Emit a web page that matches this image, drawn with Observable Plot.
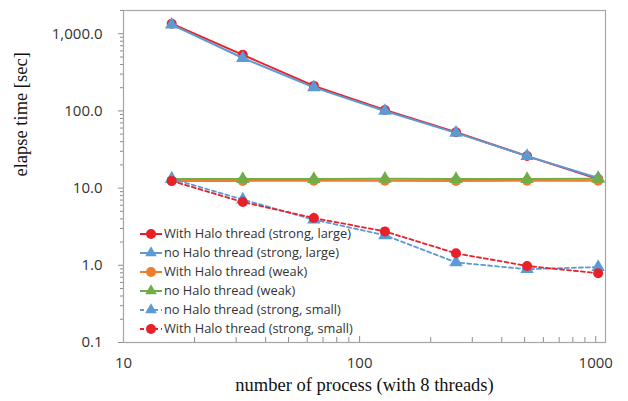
<!DOCTYPE html>
<html>
<head>
<meta charset="utf-8">
<script src="https://cdn.jsdelivr.net/npm/d3@7"></script>
<script src="https://cdn.jsdelivr.net/npm/@observablehq/plot@0.6"></script>
<style>
  html, body { margin: 0; padding: 0; background: #fff; }
  #chart { width: 628px; height: 401px; }
</style>
</head>
<body>
<div id="chart"></div>
<script>
const procs = [16, 32, 64, 128, 256, 512, 1024];
const withHaloStrongLarge = [1350, 533, 211, 103, 53, 26, 13.1];
const noHaloStrongLarge = [1310, 485, 202, 100, 52, 26, 13.5];
const withHaloWeak = [12.4, 12.4, 12.5, 12.5, 12.4, 12.5, 12.5];
const noHaloWeak = [13.1, 13.1, 13.1, 13.2, 13.1, 13.1, 13.2];
const noHaloStrongSmall = [13.2, 7.1, 3.9, 2.45, 1.09, 0.89, 0.95];
const withHaloStrongSmall = [12.4, 6.6, 4.1, 2.75, 1.43, 0.98, 0.79];

const seriesNames = [
  "With Halo thread (strong, large)",
  "no Halo thread (strong, large)",
  "With Halo thread (weak)",
  "no Halo thread (weak)",
  "no Halo thread (strong, small)",
  "With Halo thread (strong, small)"
];
const seriesValues = [withHaloStrongLarge, noHaloStrongLarge, withHaloWeak, noHaloWeak, noHaloStrongSmall, withHaloStrongSmall];
const seriesColors = ["#e8202a", "#5b9bd5", "#ed7d31", "#70ad47", "#5b9bd5", "#e8202a"];
const seriesSymbols = ["circle", "triangle", "circle", "triangle", "triangle", "circle"];
const seriesDashed = [false, false, false, false, true, true];

const yMajor = [0.1, 1, 10, 100, 1000];
const xMajor = [10, 100, 1000];
const yMinor = [];
for (const d of [0.1, 1, 10, 100, 1000]) for (let k = 2; k <= 9; k++) if (d * k <= 2000) yMinor.push(d * k);
const xMinor = [];
for (const d of [10, 100]) for (let k = 2; k <= 9; k++) xMinor.push(d * k);

const marks = [];
seriesNames.forEach((name, i) => {
  const data = procs.map((p, j) => ({p, v: seriesValues[i][j]}));
  marks.push(Plot.line(data, {
    x: "p", y: "v", stroke: seriesColors[i], strokeWidth: seriesDashed[i] ? 1.8 : 2,
    strokeDasharray: seriesDashed[i] ? "4,3" : null
  }));
  marks.push(Plot.dot(data, {
    x: "p", y: "v", fill: seriesColors[i], stroke: "none",
    symbol: seriesSymbols[i], r: seriesSymbols[i] === "circle" ? 5 : 5
  }));
});

const tickFont = "'Open Sans', sans-serif";
const serif = "'Liberation Serif', 'DejaVu Serif', serif";

const chart = Plot.plot({
  width: 628,
  height: 401,
  marginLeft: 123,
  marginRight: 23,
  marginTop: 10,
  marginBottom: 59,
  style: {background: "#fff", fontFamily: tickFont},
  x: {type: "log", domain: [10, 1100]},
  y: {type: "log", domain: [0.1, 2000]},
  marks: [
    Plot.axisY(yMinor, {tickSize: 3, text: null, stroke: "#8c8c8c", label: null}),
    Plot.axisY(yMajor, {tickSize: 5, tickPadding: 16, tickFormat: d3.format(",.1f"), fontSize: 15, fill: "#333", stroke: "#8c8c8c", label: null}),
    Plot.axisX(xMinor, {tickSize: -5, text: null, stroke: "#8c8c8c", label: null}),
    Plot.axisX(xMajor, {tickSize: -6, text: null, stroke: "#8c8c8c", label: null}),
    Plot.axisX(xMajor, {tickSize: 0, tickPadding: 15, tickFormat: d => String(d), fontSize: 15, fill: "#333", label: null}),
    Plot.frame({stroke: "#a6a6a6", strokeWidth: 1.2}),
    ...marks,
    Plot.text(["elapse time [sec]"], {frameAnchor: "left", rotate: -90, dx: -102, fontSize: 18.5, fontFamily: serif, fill: "#111"}),
    Plot.text(["number of process (with 8 threads)"], {frameAnchor: "bottom", dy: 48, fontSize: 18.5, fontFamily: serif, fill: "#111"})
  ]
});

document.getElementById("chart").appendChild(chart);

// legend inside plot area
const svg = d3.select(chart);
const lg = svg.append("g").attr("font-family", tickFont).attr("font-size", 12.8).attr("text-anchor", "start");
seriesNames.forEach((name, i) => {
  const y = 234 + i * 19;
  const g = lg.append("g").attr("transform", `translate(140,${y})`);
  g.append("line").attr("x1", 0).attr("x2", 22).attr("y1", 0).attr("y2", 0)
    .attr("stroke", seriesColors[i]).attr("stroke-width", seriesDashed[i] ? 1.8 : 2)
    .attr("stroke-dasharray", seriesDashed[i] ? "4,3" : null);
  if (seriesSymbols[i] === "circle") {
    g.append("circle").attr("cx", 11).attr("cy", 0).attr("r", 5).attr("fill", seriesColors[i]);
  } else {
    g.append("path").attr("d", d3.symbol(d3.symbolTriangle, 58)()).attr("transform", "translate(11,0)").attr("fill", seriesColors[i]);
  }
  g.append("text").attr("x", 24).attr("y", 0).attr("dy", "0.35em").attr("text-anchor", "start").attr("fill", "#333").text(name);
});
</script>
</body>
</html>
